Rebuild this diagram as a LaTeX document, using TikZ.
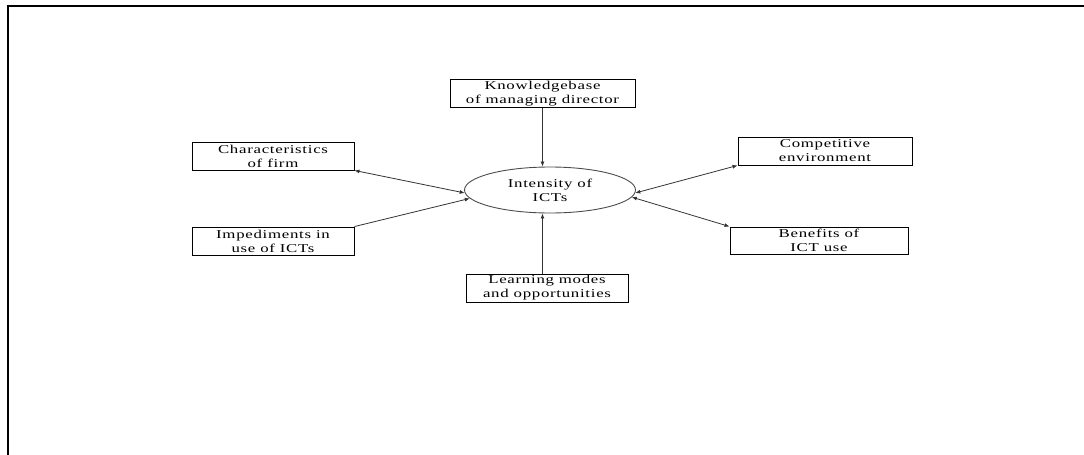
\documentclass[tikz,border=0pt]{standalone}
\usepackage{fontspec}
\setmainfont{Liberation Serif}[FakeStretch=1.4,LetterSpace=6]
\usetikzlibrary{shapes.geometric,arrows.meta}

\tikzstyle{factorbox}=[rectangle,
                         draw,
                         line width=0.9pt,
                         inner sep=0pt,
                         minimum height=28pt,
                         align=center,
                         font=\fontsize{12}{14}\selectfont]
\tikzstyle{centrenode}=[ellipse,
                         draw=black!70,
                         line width=0.9pt,
                         inner sep=0pt,
                         minimum width=171pt,
                         minimum height=46pt,
                         align=center,
                         font=\fontsize{12}{14}\selectfont]
\tikzstyle{link}=[draw=black!80,line width=0.8pt]

\begin{document}
\begin{tikzpicture}[x=1pt,y=-1pt]
    \useasboundingbox (0,0) rectangle (1084,455);
    % frame of the figure
    \draw[line width=2pt] (1084,5.5) -- (7.5,5.5) -- (7.5,455);

    \node [centrenode] (ict) at (550,190) {Intensity of\\ICTs};
    \node [factorbox,minimum width=185pt] (know) at (542.5,93.5) {Knowledgebase\\of managing director};
    \node [factorbox,minimum width=162pt] (firm) at (273,156) {Characteristics\\of firm};
    \node [factorbox,minimum width=162pt] (imped) at (273,241) {Impediments in\\use of ICTs};
    \node [factorbox,minimum width=174pt] (compet) at (825,151) {Competitive\\environment};
    \node [factorbox,minimum width=178pt,minimum height=27pt] (benef) at (819,240.5) {Benefits of\\ICT use};
    \node [factorbox,minimum width=162pt] (learn) at (547,288) {Learning modes\\and opportunities};

    \draw [link,-{Latex[length=5pt,width=4pt]}] (know.south) -- (know.south |- ict.north);
    \draw [link,-{Latex[length=5pt,width=4pt]}] (learn.north -| know.south) -- (know.south |- ict.south);
    \draw [link,{Latex[length=5pt,width=4pt]}-{Latex[length=5pt,width=4pt]}] (firm.south east) -- (ict.182);
    \draw [link,-{Latex[length=5pt,width=4pt]}] (imped.north east) -- (ict.186);
    \draw [link,{Latex[length=5pt,width=4pt]}-{Latex[length=5pt,width=4pt]}] (compet.south west) -- (ict.358);
    \draw [link,{Latex[length=5pt,width=4pt]}-{Latex[length=5pt,width=4pt]}] (benef.north west) -- (ict.355);
\end{tikzpicture}
\end{document}
